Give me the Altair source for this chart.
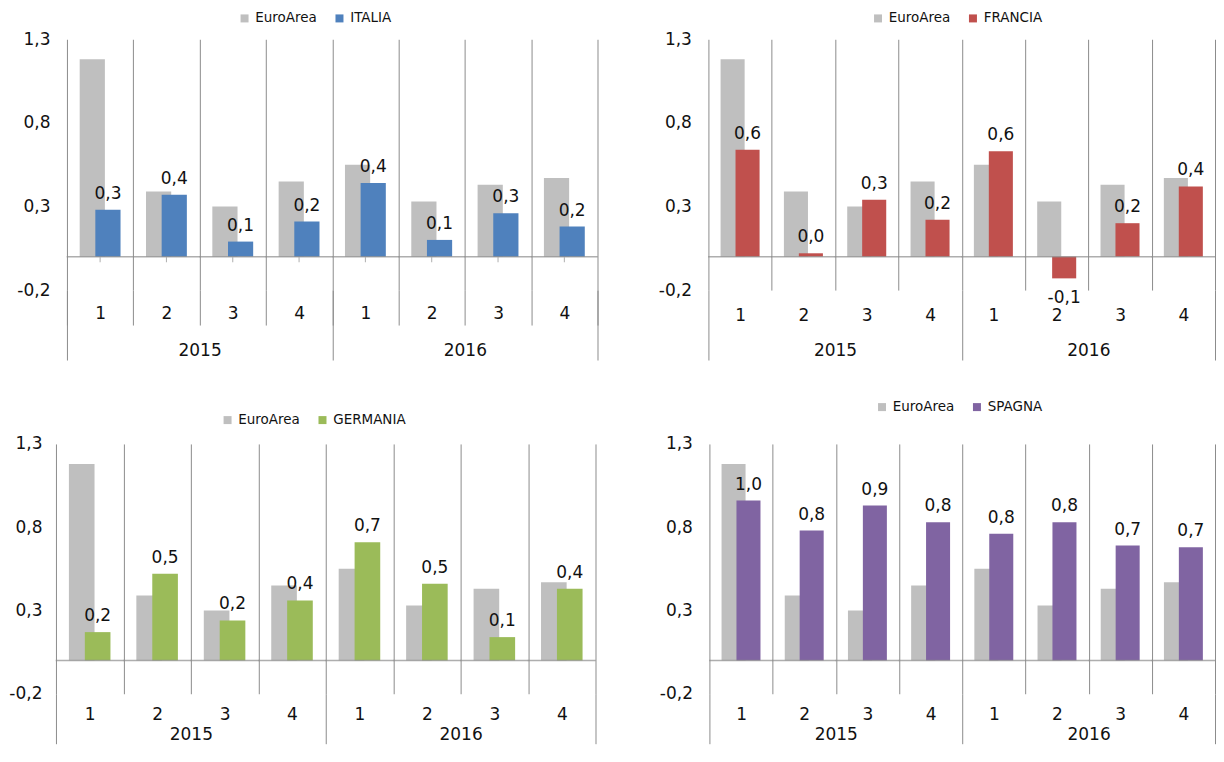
import altair as alt
import pandas as pd

# ---------------- data ----------------
keys = ["2015-1", "2015-2", "2015-3", "2015-4", "2016-1", "2016-2", "2016-3", "2016-4"]
years = ["2015", "2016"]
euro_area = [1.18, 0.39, 0.30, 0.45, 0.55, 0.33, 0.43, 0.47]
italia = [0.28, 0.37, 0.09, 0.21, 0.44, 0.10, 0.26, 0.18]
francia = [0.64, 0.02, 0.34, 0.22, 0.63, -0.13, 0.20, 0.42]
germania = [0.17, 0.52, 0.24, 0.36, 0.71, 0.46, 0.14, 0.43]
spagna = [0.96, 0.78, 0.93, 0.83, 0.76, 0.83, 0.69, 0.68]
y_ticks = [-0.2, 0.3, 0.8, 1.3]

FONT = "DejaVu Sans"
TXT = "#111111"
GRID = "#8c8c8c"
GRAY = "#BFBFBF"


def panel(country, values, color, width, height, rng, y_ext, y_pad,
          leg_x, leg_y, q_tick, q_pad, yr_tick, yr_pad, center_ticks=False):
    df = pd.DataFrame({
        "qk": keys * 2,
        "serie": ["EuroArea"] * 8 + [country] * 8,
        "v": euro_area + values,
    })
    df["lab"] = [f"{v:.1f}".replace(".", ",") for v in df["v"]]
    ydf = pd.DataFrame({"yr": years})

    band = (rng[1] - rng[0]) / 8.0
    off = 0.118 * band

    xaxis = alt.Axis(title=None, domain=False, grid=True, gridColor=GRID, gridWidth=1,
                     ticks=True, tickBand="extent", tickColor=GRID, tickWidth=1,
                     tickSize=q_tick, labelExpr="substring(datum.label, 5)", labelAngle=0,
                     labelFont=FONT, labelFontSize=17, labelColor=TXT, labelPadding=q_pad,
                     orient="bottom")
    xq = alt.X("qk:N", sort=keys,
               scale=alt.Scale(type="band", paddingInner=0, paddingOuter=0, range=rng),
               axis=xaxis)
    yaxis = alt.Axis(title=None, values=y_ticks, domain=False, ticks=False, grid=False,
                     labelExpr="replace(replace(format(datum.value, '.1f'), '.', ','), '\u2212', '-')",
                     labelFont=FONT, labelFontSize=17, labelColor=TXT, labelPadding=y_pad,
                     minExtent=y_ext, maxExtent=y_ext)
    yscale = alt.Scale(domain=[-0.2, 1.3], nice=False)
    yv = alt.Y("v:Q", scale=yscale, axis=yaxis)
    legend = alt.Legend(orient="none", legendX=leg_x, legendY=leg_y, direction="horizontal",
                        title=None, symbolType="square", symbolSize=64, symbolStrokeWidth=0,
                        labelFont=FONT, labelFontSize=13.5, labelColor=TXT,
                        columnPadding=15, labelOffset=4)
    col = alt.Color("serie:N", sort=["EuroArea", country],
                    scale=alt.Scale(domain=["EuroArea", country], range=[GRAY, color]),
                    legend=legend)

    base = alt.Chart(df)
    gray = base.transform_filter(alt.datum.serie == "EuroArea").mark_bar(
        xOffset=-off, width=alt.RelativeBandSize(0.38)
    ).encode(x=xq, y=yv, y2=alt.datum(0), color=col)
    ctry = base.transform_filter(alt.datum.serie == country).mark_bar(
        xOffset=off, width=alt.RelativeBandSize(0.38)
    ).encode(x=xq, y=yv, y2=alt.datum(0), color=col)
    # zero line, one segment per quarter so that it spans exactly the bands
    zero = base.transform_filter(alt.datum.serie == "EuroArea").mark_tick(
        orient="horizontal", size=band + 0.5, thickness=1.5, color=GRID
    ).encode(x=xq, y=alt.datum(0))
    pos = base.transform_filter(
        (alt.datum.serie == country) & (alt.datum.v >= 0)
    ).mark_text(xOffset=off, dy=-11, baseline="alphabetic", font=FONT, fontSize=17,
                color=TXT).encode(x=xq, y=yv, text="lab:N")
    neg = base.transform_filter(
        (alt.datum.serie == country) & (alt.datum.v < 0)
    ).mark_text(xOffset=off, dy=25, baseline="alphabetic", font=FONT, fontSize=17,
                color=TXT).encode(x=xq, y=yv, text="lab:N")

    layers = [gray, ctry, zero]
    if center_ticks:
        layers.append(
            base.transform_filter(alt.datum.serie == "EuroArea").mark_tick(
                orient="vertical", size=5, thickness=1, color=GRID, yOffset=3
            ).encode(x=xq, y=alt.datum(0))
        )
    layers += [pos, neg]
    inner = alt.layer(*layers)

    yaxis2 = alt.Axis(title=None, domain=False, grid=False, ticks=True, tickBand="extent",
                      tickColor=GRID, tickWidth=1, tickSize=yr_tick, labelAngle=0,
                      labelFont=FONT, labelFontSize=17, labelColor=TXT,
                      labelPadding=yr_pad, orient="bottom")
    yr = alt.Chart(ydf).mark_bar(opacity=0).encode(
        x=alt.X("yr:N", sort=years,
                scale=alt.Scale(type="band", paddingInner=0, paddingOuter=0, range=rng),
                axis=yaxis2)
    )
    return alt.layer(inner, yr).resolve_scale(x="independent").properties(
        width=width, height=height)


# first-column views share one origin, so ITALIA's bands start 11px inside its view
p1 = panel("ITALIA", italia, "#4F81BD", 542, 251, [11, 542], 47, 6, 182, -28,
           35, -20, 70, -18, center_ticks=True)
p2 = panel("FRANCIA", francia, "#C0504D", 507, 251, [0, 507], 58, 17, 163, -28,
           0, 17, 70, -18)
p3 = panel("GERMANIA", germania, "#9BBB59", 540, 250, [0, 540], 47, 14, 165, -31,
           0, 13, 50, -17)
p4 = panel("SPAGNA", spagna, "#8064A2", 506, 250, [0, 506], 58, 17, 166, -44,
           0, 13, 50, -17)

top = alt.hconcat(p1, p2, spacing=52).resolve_scale(color="independent", x="independent",
                                                    y="independent")
bottom = alt.hconcat(p3, p4, spacing=55).resolve_scale(color="independent", x="independent",
                                                       y="independent")
chart = alt.vconcat(top, bottom, spacing=39).resolve_scale(
    color="independent", x="independent", y="independent"
).properties(
    padding={"left": 0, "top": 3, "right": 0, "bottom": 0},
    background="white",
).configure_view(stroke=None)

chart.save("out.html", embed_options={"renderer": "svg", "actions": False})
